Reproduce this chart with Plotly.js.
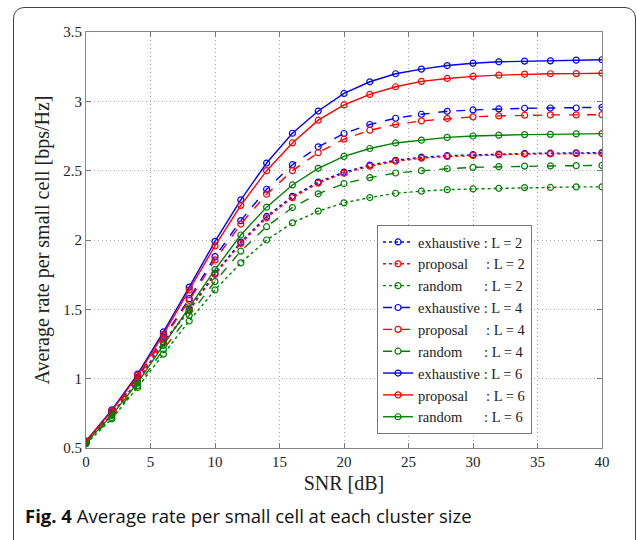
<!DOCTYPE html>
<html>
<head>
<meta charset="utf-8">
<script src="https://cdn.plot.ly/plotly-3.0.1.min.js"></script>
<style>
html,body{margin:0;padding:0;width:637px;height:540px;overflow:hidden;background:#fff;}
#frame{position:absolute;left:13px;top:7px;width:623px;height:600px;border:1px solid #444;border-radius:11px;box-sizing:border-box;}
#chart{position:absolute;left:0;top:0;width:637px;height:540px;}
#cap{position:absolute;left:25px;top:503px;font-family:"Open Sans",sans-serif;font-size:18.5px;color:#111;white-space:nowrap;}
</style>
</head>
<body>
<div id="frame"></div>
<div id="chart"></div>
<div id="cap"><b>Fig. 4</b> Average rate per small cell at each cluster size</div>
<script>
const snr = [0,2,4,6,8,10,12,14,16,18,20,22,24,26,28,30,32,34,36,38,40];
const exhaustiveL2 = [0.54,0.745,0.985,1.265,1.5,1.76,1.985,2.17,2.315,2.418,2.49,2.54,2.575,2.597,2.608,2.615,2.62,2.624,2.626,2.628,2.63];
const proposalL2   = [0.54,0.742,0.98,1.26,1.49,1.751,1.975,2.16,2.305,2.41,2.482,2.532,2.568,2.59,2.602,2.61,2.614,2.62,2.621,2.622,2.624];
const randomL2     = [0.53,0.71,0.937,1.177,1.416,1.64,1.835,2.0,2.124,2.208,2.268,2.306,2.337,2.352,2.363,2.368,2.373,2.378,2.379,2.383,2.383];
const exhaustiveL4 = [0.545,0.76,1.01,1.297,1.577,1.88,2.14,2.366,2.543,2.672,2.768,2.833,2.878,2.907,2.928,2.938,2.945,2.95,2.952,2.952,2.957];
const proposalL4   = [0.545,0.755,1.005,1.285,1.565,1.856,2.115,2.33,2.5,2.63,2.727,2.792,2.833,2.859,2.876,2.888,2.895,2.9,2.902,2.902,2.904];
const randomL4     = [0.535,0.72,0.95,1.21,1.457,1.70,1.92,2.096,2.234,2.333,2.407,2.45,2.483,2.5,2.514,2.524,2.529,2.533,2.534,2.536,2.538];
const exhaustiveL6 = [0.55,0.775,1.033,1.337,1.66,1.99,2.29,2.555,2.77,2.93,3.057,3.141,3.199,3.232,3.258,3.275,3.285,3.29,3.292,3.297,3.3];
const proposalL6   = [0.55,0.768,1.024,1.32,1.64,1.957,2.25,2.5,2.70,2.864,2.974,3.05,3.105,3.144,3.165,3.18,3.189,3.196,3.199,3.2,3.203];
const randomL6     = [0.54,0.735,0.97,1.24,1.51,1.787,2.036,2.237,2.397,2.517,2.603,2.66,2.70,2.72,2.74,2.75,2.756,2.76,2.762,2.765,2.767];

const names = [
  "exhaustive : L = 2", "proposal\u00a0\u00a0\u00a0\u00a0\u00a0: L = 2", "random\u00a0\u00a0\u00a0\u00a0\u00a0\u00a0: L = 2",
  "exhaustive : L = 4", "proposal\u00a0\u00a0\u00a0\u00a0\u00a0: L = 4", "random\u00a0\u00a0\u00a0\u00a0\u00a0\u00a0: L = 4",
  "exhaustive : L = 6", "proposal\u00a0\u00a0\u00a0\u00a0\u00a0: L = 6", "random\u00a0\u00a0\u00a0\u00a0\u00a0\u00a0: L = 6"
];
const series = [exhaustiveL2, proposalL2, randomL2, exhaustiveL4, proposalL4, randomL4, exhaustiveL6, proposalL6, randomL6];
const colors = ["#0000ff", "#ff0000", "#008000"];
const dashes = ["dot", "dash", "solid"];

const traces = series.map((ys, i) => ({
  x: snr, y: ys, name: names[i], type: "scatter", mode: "lines+markers",
  line: {color: colors[i % 3], width: 1.4, dash: dashes[Math.floor(i / 3)]},
  marker: {symbol: "circle-open", size: 6, color: colors[i % 3], line: {width: 1.2}}
}));

const serif = "Liberation Serif";
const grid = {ticks: "inside", ticklen: 5, tickcolor: "#777",
  showline: true, linecolor: "#888", linewidth: 1, mirror: "ticks",
  showgrid: true, gridcolor: "#a8a8a8", griddash: "1px,3px", gridwidth: 1, zeroline: false};
const layout = {
  width: 637, height: 540,
  margin: {l: 86, r: 35, t: 32, b: 92},
  paper_bgcolor: "rgba(0,0,0,0)", plot_bgcolor: "#fff",
  font: {family: serif, size: 15, color: "#222"},
  showlegend: true,
  legend: {x: 0.564, y: 0.536, xanchor: "left", yanchor: "top", bgcolor: "#fff",
           bordercolor: "#777", borderwidth: 1, font: {family: serif, size: 14.5, color: "#222"},
           itemwidth: 30, tracegroupgap: 0},
  xaxis: Object.assign({range: [0, 40], dtick: 5, tick0: 0,
          title: {text: "SNR [dB]", font: {family: serif, size: 20, color: "#222"}, standoff: 6}}, grid),
  yaxis: Object.assign({range: [0.5, 3.5], dtick: 0.5, tick0: 0.5,
          title: {text: "Average rate per small cell [bps/Hz]", font: {family: serif, size: 20, color: "#222"}, standoff: 8}}, grid)
};
Plotly.newPlot("chart", traces, layout, {displayModeBar: false, staticPlot: true});
</script>
</body>
</html>
